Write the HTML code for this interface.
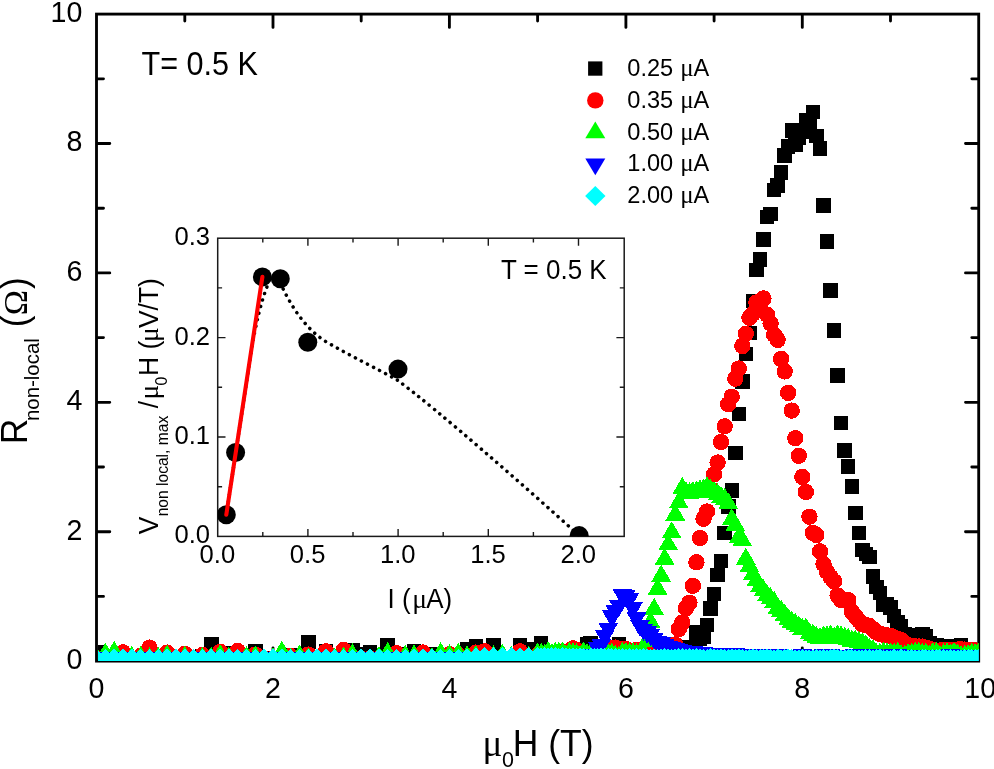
<!DOCTYPE html>
<html><head><meta charset="utf-8"><title>R non-local vs field</title>
<style>html,body{margin:0;padding:0;background:#fff;}body{width:994px;height:769px;overflow:hidden;font-family:"Liberation Sans",sans-serif;}svg{display:block;will-change:transform;}</style></head>
<body>
<svg width="994" height="769" viewBox="0 0 994 769">
<g stroke="#000" stroke-width="2.85" fill="none" stroke-linecap="round">
<path d="M184.8 660.1v-6M184.8 15.1v6M97.5 596.4h6M977.8 596.4h-6M273 660.1v-12.3M273 15.1v12.3M97.5 531.7h12.3M977.8 531.7h-12.3M361.2 660.1v-6M361.2 15.1v6M97.5 467h6M977.8 467h-6M449.4 660.1v-12.3M449.4 15.1v12.3M97.5 402.3h12.3M977.8 402.3h-12.3M537.6 660.1v-6M537.6 15.1v6M97.5 337.6h6M977.8 337.6h-6M625.9 660.1v-12.3M625.9 15.1v12.3M97.5 272.9h12.3M977.8 272.9h-12.3M714.1 660.1v-6M714.1 15.1v6M97.5 208.2h6M977.8 208.2h-6M802.3 660.1v-12.3M802.3 15.1v12.3M97.5 143.5h12.3M977.8 143.5h-12.3M890.5 660.1v-6M890.5 15.1v6M97.5 78.8h6M977.8 78.8h-6"/>
</g>
<rect x="96.5" y="14.1" width="882.2" height="647" fill="none" stroke="#000" stroke-width="2.85"/>
<clipPath id="c"><rect x="98" y="14.1" width="880.8" height="647"/></clipPath>
<g clip-path="url(#c)" shape-rendering="crispEdges">
<path fill="#000" d="M89.3 645.2h14.5v14.5h-14.5zM98.1 651.8h14.5v14.5h-14.5zM106.9 651.8h14.5v14.5h-14.5zM115.8 651.8h14.5v14.5h-14.5zM124.6 651.8h14.5v14.5h-14.5zM133.4 651.8h14.5v14.5h-14.5zM142.2 651.8h14.5v14.5h-14.5zM151.1 651.8h14.5v14.5h-14.5zM159.9 651.8h14.5v14.5h-14.5zM168.7 651.8h14.5v14.5h-14.5zM177.5 651.8h14.5v14.5h-14.5zM186.3 651.8h14.5v14.5h-14.5zM195.2 648.5h14.5v14.5h-14.5zM204 637.4h14.5v14.5h-14.5zM212.8 651.8h14.5v14.5h-14.5zM221.6 645.6h14.5v14.5h-14.5zM230.5 651.8h14.5v14.5h-14.5zM239.3 651.8h14.5v14.5h-14.5zM248.1 644.4h14.5v14.5h-14.5zM256.9 651.8h14.5v14.5h-14.5zM265.7 650.5h14.5v14.5h-14.5zM274.6 651.8h14.5v14.5h-14.5zM283.4 647.5h14.5v14.5h-14.5zM292.2 651.8h14.5v14.5h-14.5zM301 634.8h14.5v14.5h-14.5zM309.9 651.8h14.5v14.5h-14.5zM318.7 644.4h14.5v14.5h-14.5zM327.5 651.8h14.5v14.5h-14.5zM336.3 651.8h14.5v14.5h-14.5zM345.1 643.2h14.5v14.5h-14.5zM354 646.5h14.5v14.5h-14.5zM362.8 644.9h14.5v14.5h-14.5zM371.6 651.8h14.5v14.5h-14.5zM380.4 638h14.5v14.5h-14.5zM389.2 651.8h14.5v14.5h-14.5zM398.1 646.5h14.5v14.5h-14.5zM406.9 644h14.5v14.5h-14.5zM415.7 651.8h14.5v14.5h-14.5zM424.5 646.5h14.5v14.5h-14.5zM433.4 651.8h14.5v14.5h-14.5zM442.2 651.8h14.5v14.5h-14.5zM451 651.8h14.5v14.5h-14.5zM459.8 641.8h14.5v14.5h-14.5zM468.6 638.5h14.5v14.5h-14.5zM477.5 651.8h14.5v14.5h-14.5zM486.3 637.5h14.5v14.5h-14.5zM495.1 651.8h14.5v14.5h-14.5zM503.9 651.8h14.5v14.5h-14.5zM512.8 638h14.5v14.5h-14.5zM521.6 642h14.5v14.5h-14.5zM530.4 647.8h14.5v14.5h-14.5zM533.9 635.5h14.5v14.5h-14.5zM537.5 649.2h14.5v14.5h-14.5zM541 644.6h14.5v14.5h-14.5zM544.5 648.9h14.5v14.5h-14.5zM548 648.3h14.5v14.5h-14.5zM551.6 647.4h14.5v14.5h-14.5zM555.1 648.8h14.5v14.5h-14.5zM558.6 647.4h14.5v14.5h-14.5zM562.2 648.6h14.5v14.5h-14.5zM565.7 647.5h14.5v14.5h-14.5zM569.2 647.5h14.5v14.5h-14.5zM572.7 648.5h14.5v14.5h-14.5zM576.3 649.7h14.5v14.5h-14.5zM579.8 637h14.5v14.5h-14.5zM583.3 636h14.5v14.5h-14.5zM586.9 649.1h14.5v14.5h-14.5zM590.4 650.1h14.5v14.5h-14.5zM593.9 649h14.5v14.5h-14.5zM597.4 648.4h14.5v14.5h-14.5zM601 650.2h14.5v14.5h-14.5zM604.5 647.4h14.5v14.5h-14.5zM608 649.8h14.5v14.5h-14.5zM611.6 636.6h14.5v14.5h-14.5zM615.1 647.7h14.5v14.5h-14.5zM618.6 647.6h14.5v14.5h-14.5zM622.1 648.2h14.5v14.5h-14.5zM625.7 649.7h14.5v14.5h-14.5zM629.2 647.8h14.5v14.5h-14.5zM632.7 649h14.5v14.5h-14.5zM636.3 649.2h14.5v14.5h-14.5zM639.8 648.4h14.5v14.5h-14.5zM643.3 642.8h14.5v14.5h-14.5zM646.9 647.4h14.5v14.5h-14.5zM650.4 647.4h14.5v14.5h-14.5zM653.9 647.9h14.5v14.5h-14.5zM657.4 649.3h14.5v14.5h-14.5zM661 643.8h14.5v14.5h-14.5zM664.5 648.2h14.5v14.5h-14.5zM668 649h14.5v14.5h-14.5zM671.6 647.8h14.5v14.5h-14.5zM675.1 646.2h14.5v14.5h-14.5zM678.6 644.8h14.5v14.5h-14.5zM682.1 640.1h14.5v14.5h-14.5zM685.7 640.1h14.5v14.5h-14.5zM689.2 625h14.5v14.5h-14.5zM692.7 631.6h14.5v14.5h-14.5zM696.3 629.2h14.5v14.5h-14.5zM699.8 617.8h14.5v14.5h-14.5zM703.3 601h14.5v14.5h-14.5zM706.8 586.5h14.5v14.5h-14.5zM710.4 567.5h14.5v14.5h-14.5zM713.9 553.6h14.5v14.5h-14.5zM717.4 525.6h14.5v14.5h-14.5zM721 499.4h14.5v14.5h-14.5zM724.5 483.4h14.5v14.5h-14.5zM728 445.6h14.5v14.5h-14.5zM731.5 406.6h14.5v14.5h-14.5zM735.1 374.4h14.5v14.5h-14.5zM738.6 346.8h14.5v14.5h-14.5zM742.1 325.9h14.5v14.5h-14.5zM745.7 293.8h14.5v14.5h-14.5zM749.2 262.8h14.5v14.5h-14.5zM752.7 252.4h14.5v14.5h-14.5zM756.2 232.2h14.5v14.5h-14.5zM759.8 209.9h14.5v14.5h-14.5zM763.3 206.8h14.5v14.5h-14.5zM766.8 182.8h14.5v14.5h-14.5zM770.4 178.2h14.5v14.5h-14.5zM773.9 165.4h14.5v14.5h-14.5zM777.4 148.2h14.5v14.5h-14.5zM780.9 139.1h14.5v14.5h-14.5zM784.5 123.4h14.5v14.5h-14.5zM788 137.4h14.5v14.5h-14.5zM791.5 130.2h14.5v14.5h-14.5zM795.1 124.2h14.5v14.5h-14.5zM798.6 112.5h14.5v14.5h-14.5zM802.1 117.8h14.5v14.5h-14.5zM805.6 104.8h14.5v14.5h-14.5zM809.2 128.7h14.5v14.5h-14.5zM812.7 141.3h14.5v14.5h-14.5zM816.2 198.4h14.5v14.5h-14.5zM819.8 234.2h14.5v14.5h-14.5zM823.3 283.2h14.5v14.5h-14.5zM826.8 323.4h14.5v14.5h-14.5zM830.3 368.4h14.5v14.5h-14.5zM833.9 415.9h14.5v14.5h-14.5zM837.4 443.2h14.5v14.5h-14.5zM840.9 459.2h14.5v14.5h-14.5zM844.5 479.1h14.5v14.5h-14.5zM848 505.5h14.5v14.5h-14.5zM851.5 525.5h14.5v14.5h-14.5zM855 542.8h14.5v14.5h-14.5zM858.6 546.5h14.5v14.5h-14.5zM862.1 549.6h14.5v14.5h-14.5zM865.6 569h14.5v14.5h-14.5zM869.2 579.8h14.5v14.5h-14.5zM872.7 585.5h14.5v14.5h-14.5zM876.2 597h14.5v14.5h-14.5zM879.8 596.9h14.5v14.5h-14.5zM883.3 600.2h14.5v14.5h-14.5zM886.8 608.8h14.5v14.5h-14.5zM890.3 614.8h14.5v14.5h-14.5zM893.9 619h14.5v14.5h-14.5zM897.4 626.8h14.5v14.5h-14.5zM900.9 627.8h14.5v14.5h-14.5zM904.5 628.8h14.5v14.5h-14.5zM908 628.5h14.5v14.5h-14.5zM911.5 628.2h14.5v14.5h-14.5zM915 627.1h14.5v14.5h-14.5zM918.6 629.1h14.5v14.5h-14.5zM922.1 635.8h14.5v14.5h-14.5zM925.6 638.8h14.5v14.5h-14.5zM929.2 638.1h14.5v14.5h-14.5zM932.7 638.8h14.5v14.5h-14.5zM936.2 638.8h14.5v14.5h-14.5zM939.7 638.8h14.5v14.5h-14.5zM943.3 638.8h14.5v14.5h-14.5zM946.8 638.8h14.5v14.5h-14.5zM950.3 638.8h14.5v14.5h-14.5zM953.9 638.1h14.5v14.5h-14.5zM957.4 643.8h14.5v14.5h-14.5zM960.9 644.2h14.5v14.5h-14.5zM964.4 644.8h14.5v14.5h-14.5zM968 645.2h14.5v14.5h-14.5zM971.5 645.8h14.5v14.5h-14.5z"/>
<path fill="#f00" d="M88.3 658.5a8.2 8.2 0 1 0 16.4 0a8.2 8.2 0 1 0 -16.4 0zM97.2 658.5a8.2 8.2 0 1 0 16.4 0a8.2 8.2 0 1 0 -16.4 0zM106 658.5a8.2 8.2 0 1 0 16.4 0a8.2 8.2 0 1 0 -16.4 0zM114.8 652.3a8.2 8.2 0 1 0 16.4 0a8.2 8.2 0 1 0 -16.4 0zM123.6 658.5a8.2 8.2 0 1 0 16.4 0a8.2 8.2 0 1 0 -16.4 0zM132.5 655.9a8.2 8.2 0 1 0 16.4 0a8.2 8.2 0 1 0 -16.4 0zM141.3 647.6a8.2 8.2 0 1 0 16.4 0a8.2 8.2 0 1 0 -16.4 0zM150.1 658.5a8.2 8.2 0 1 0 16.4 0a8.2 8.2 0 1 0 -16.4 0zM158.9 652.6a8.2 8.2 0 1 0 16.4 0a8.2 8.2 0 1 0 -16.4 0zM167.7 658.5a8.2 8.2 0 1 0 16.4 0a8.2 8.2 0 1 0 -16.4 0zM176.6 653.9a8.2 8.2 0 1 0 16.4 0a8.2 8.2 0 1 0 -16.4 0zM185.4 658.5a8.2 8.2 0 1 0 16.4 0a8.2 8.2 0 1 0 -16.4 0zM194.2 655a8.2 8.2 0 1 0 16.4 0a8.2 8.2 0 1 0 -16.4 0zM203 658.5a8.2 8.2 0 1 0 16.4 0a8.2 8.2 0 1 0 -16.4 0zM211.9 651.9a8.2 8.2 0 1 0 16.4 0a8.2 8.2 0 1 0 -16.4 0zM220.7 658.5a8.2 8.2 0 1 0 16.4 0a8.2 8.2 0 1 0 -16.4 0zM229.5 651a8.2 8.2 0 1 0 16.4 0a8.2 8.2 0 1 0 -16.4 0zM238.3 658.5a8.2 8.2 0 1 0 16.4 0a8.2 8.2 0 1 0 -16.4 0zM247.1 654.6a8.2 8.2 0 1 0 16.4 0a8.2 8.2 0 1 0 -16.4 0zM256 658.5a8.2 8.2 0 1 0 16.4 0a8.2 8.2 0 1 0 -16.4 0zM264.8 658.5a8.2 8.2 0 1 0 16.4 0a8.2 8.2 0 1 0 -16.4 0zM273.6 658.5a8.2 8.2 0 1 0 16.4 0a8.2 8.2 0 1 0 -16.4 0zM282.4 656a8.2 8.2 0 1 0 16.4 0a8.2 8.2 0 1 0 -16.4 0zM291.3 658.5a8.2 8.2 0 1 0 16.4 0a8.2 8.2 0 1 0 -16.4 0zM300.1 654.6a8.2 8.2 0 1 0 16.4 0a8.2 8.2 0 1 0 -16.4 0zM308.9 658.5a8.2 8.2 0 1 0 16.4 0a8.2 8.2 0 1 0 -16.4 0zM317.7 651.3a8.2 8.2 0 1 0 16.4 0a8.2 8.2 0 1 0 -16.4 0zM326.5 658.5a8.2 8.2 0 1 0 16.4 0a8.2 8.2 0 1 0 -16.4 0zM335.4 650a8.2 8.2 0 1 0 16.4 0a8.2 8.2 0 1 0 -16.4 0zM344.2 658.5a8.2 8.2 0 1 0 16.4 0a8.2 8.2 0 1 0 -16.4 0zM353 658.5a8.2 8.2 0 1 0 16.4 0a8.2 8.2 0 1 0 -16.4 0zM361.8 658.5a8.2 8.2 0 1 0 16.4 0a8.2 8.2 0 1 0 -16.4 0zM370.7 658.5a8.2 8.2 0 1 0 16.4 0a8.2 8.2 0 1 0 -16.4 0zM379.5 658.5a8.2 8.2 0 1 0 16.4 0a8.2 8.2 0 1 0 -16.4 0zM388.3 653.3a8.2 8.2 0 1 0 16.4 0a8.2 8.2 0 1 0 -16.4 0zM397.1 658.5a8.2 8.2 0 1 0 16.4 0a8.2 8.2 0 1 0 -16.4 0zM405.9 658.5a8.2 8.2 0 1 0 16.4 0a8.2 8.2 0 1 0 -16.4 0zM414.8 652.6a8.2 8.2 0 1 0 16.4 0a8.2 8.2 0 1 0 -16.4 0zM423.6 658.5a8.2 8.2 0 1 0 16.4 0a8.2 8.2 0 1 0 -16.4 0zM432.4 658.5a8.2 8.2 0 1 0 16.4 0a8.2 8.2 0 1 0 -16.4 0zM441.2 654.3a8.2 8.2 0 1 0 16.4 0a8.2 8.2 0 1 0 -16.4 0zM450.1 655a8.2 8.2 0 1 0 16.4 0a8.2 8.2 0 1 0 -16.4 0zM458.9 658.5a8.2 8.2 0 1 0 16.4 0a8.2 8.2 0 1 0 -16.4 0zM467.7 652.6a8.2 8.2 0 1 0 16.4 0a8.2 8.2 0 1 0 -16.4 0zM476.5 651.3a8.2 8.2 0 1 0 16.4 0a8.2 8.2 0 1 0 -16.4 0zM485.3 658.5a8.2 8.2 0 1 0 16.4 0a8.2 8.2 0 1 0 -16.4 0zM494.2 658.5a8.2 8.2 0 1 0 16.4 0a8.2 8.2 0 1 0 -16.4 0zM503 658.5a8.2 8.2 0 1 0 16.4 0a8.2 8.2 0 1 0 -16.4 0zM511.8 651.3a8.2 8.2 0 1 0 16.4 0a8.2 8.2 0 1 0 -16.4 0zM520.6 658.5a8.2 8.2 0 1 0 16.4 0a8.2 8.2 0 1 0 -16.4 0zM529.4 655a8.2 8.2 0 1 0 16.4 0a8.2 8.2 0 1 0 -16.4 0zM533 655.1a8.2 8.2 0 1 0 16.4 0a8.2 8.2 0 1 0 -16.4 0zM536.5 656.1a8.2 8.2 0 1 0 16.4 0a8.2 8.2 0 1 0 -16.4 0zM540 655.9a8.2 8.2 0 1 0 16.4 0a8.2 8.2 0 1 0 -16.4 0zM543.6 655a8.2 8.2 0 1 0 16.4 0a8.2 8.2 0 1 0 -16.4 0zM547.1 655.6a8.2 8.2 0 1 0 16.4 0a8.2 8.2 0 1 0 -16.4 0zM550.6 652a8.2 8.2 0 1 0 16.4 0a8.2 8.2 0 1 0 -16.4 0zM554.2 651.5a8.2 8.2 0 1 0 16.4 0a8.2 8.2 0 1 0 -16.4 0zM557.7 656a8.2 8.2 0 1 0 16.4 0a8.2 8.2 0 1 0 -16.4 0zM561.2 655.1a8.2 8.2 0 1 0 16.4 0a8.2 8.2 0 1 0 -16.4 0zM564.7 648.4a8.2 8.2 0 1 0 16.4 0a8.2 8.2 0 1 0 -16.4 0zM568.3 650a8.2 8.2 0 1 0 16.4 0a8.2 8.2 0 1 0 -16.4 0zM571.8 655.3a8.2 8.2 0 1 0 16.4 0a8.2 8.2 0 1 0 -16.4 0zM575.3 656a8.2 8.2 0 1 0 16.4 0a8.2 8.2 0 1 0 -16.4 0zM578.9 654.8a8.2 8.2 0 1 0 16.4 0a8.2 8.2 0 1 0 -16.4 0zM582.4 655.5a8.2 8.2 0 1 0 16.4 0a8.2 8.2 0 1 0 -16.4 0zM585.9 654.6a8.2 8.2 0 1 0 16.4 0a8.2 8.2 0 1 0 -16.4 0zM589.4 655.8a8.2 8.2 0 1 0 16.4 0a8.2 8.2 0 1 0 -16.4 0zM593 656a8.2 8.2 0 1 0 16.4 0a8.2 8.2 0 1 0 -16.4 0zM596.5 655.6a8.2 8.2 0 1 0 16.4 0a8.2 8.2 0 1 0 -16.4 0zM600 656.3a8.2 8.2 0 1 0 16.4 0a8.2 8.2 0 1 0 -16.4 0zM603.6 648a8.2 8.2 0 1 0 16.4 0a8.2 8.2 0 1 0 -16.4 0zM607.1 647.6a8.2 8.2 0 1 0 16.4 0a8.2 8.2 0 1 0 -16.4 0zM610.6 655.7a8.2 8.2 0 1 0 16.4 0a8.2 8.2 0 1 0 -16.4 0zM614.1 649a8.2 8.2 0 1 0 16.4 0a8.2 8.2 0 1 0 -16.4 0zM617.7 649a8.2 8.2 0 1 0 16.4 0a8.2 8.2 0 1 0 -16.4 0zM621.2 656.2a8.2 8.2 0 1 0 16.4 0a8.2 8.2 0 1 0 -16.4 0zM624.7 656.4a8.2 8.2 0 1 0 16.4 0a8.2 8.2 0 1 0 -16.4 0zM628.3 650a8.2 8.2 0 1 0 16.4 0a8.2 8.2 0 1 0 -16.4 0zM631.8 655.8a8.2 8.2 0 1 0 16.4 0a8.2 8.2 0 1 0 -16.4 0zM635.3 654.6a8.2 8.2 0 1 0 16.4 0a8.2 8.2 0 1 0 -16.4 0zM638.8 649.5a8.2 8.2 0 1 0 16.4 0a8.2 8.2 0 1 0 -16.4 0zM642.4 655.8a8.2 8.2 0 1 0 16.4 0a8.2 8.2 0 1 0 -16.4 0zM645.9 656.5a8.2 8.2 0 1 0 16.4 0a8.2 8.2 0 1 0 -16.4 0zM649.4 656.1a8.2 8.2 0 1 0 16.4 0a8.2 8.2 0 1 0 -16.4 0zM653 652a8.2 8.2 0 1 0 16.4 0a8.2 8.2 0 1 0 -16.4 0zM656.5 651a8.2 8.2 0 1 0 16.4 0a8.2 8.2 0 1 0 -16.4 0zM660 650a8.2 8.2 0 1 0 16.4 0a8.2 8.2 0 1 0 -16.4 0zM663.5 648a8.2 8.2 0 1 0 16.4 0a8.2 8.2 0 1 0 -16.4 0zM667.1 644.5a8.2 8.2 0 1 0 16.4 0a8.2 8.2 0 1 0 -16.4 0zM670.6 629a8.2 8.2 0 1 0 16.4 0a8.2 8.2 0 1 0 -16.4 0zM674.1 622.4a8.2 8.2 0 1 0 16.4 0a8.2 8.2 0 1 0 -16.4 0zM677.7 608.3a8.2 8.2 0 1 0 16.4 0a8.2 8.2 0 1 0 -16.4 0zM681.2 602.7a8.2 8.2 0 1 0 16.4 0a8.2 8.2 0 1 0 -16.4 0zM684.7 585.8a8.2 8.2 0 1 0 16.4 0a8.2 8.2 0 1 0 -16.4 0zM688.2 562.3a8.2 8.2 0 1 0 16.4 0a8.2 8.2 0 1 0 -16.4 0zM691.8 538.1a8.2 8.2 0 1 0 16.4 0a8.2 8.2 0 1 0 -16.4 0zM695.3 518.8a8.2 8.2 0 1 0 16.4 0a8.2 8.2 0 1 0 -16.4 0zM698.8 511.5a8.2 8.2 0 1 0 16.4 0a8.2 8.2 0 1 0 -16.4 0zM702.4 489a8.2 8.2 0 1 0 16.4 0a8.2 8.2 0 1 0 -16.4 0zM705.9 474.4a8.2 8.2 0 1 0 16.4 0a8.2 8.2 0 1 0 -16.4 0zM709.4 462.5a8.2 8.2 0 1 0 16.4 0a8.2 8.2 0 1 0 -16.4 0zM712.9 442a8.2 8.2 0 1 0 16.4 0a8.2 8.2 0 1 0 -16.4 0zM716.5 426.3a8.2 8.2 0 1 0 16.4 0a8.2 8.2 0 1 0 -16.4 0zM720 404.1a8.2 8.2 0 1 0 16.4 0a8.2 8.2 0 1 0 -16.4 0zM723.5 396.7a8.2 8.2 0 1 0 16.4 0a8.2 8.2 0 1 0 -16.4 0zM727.1 378.7a8.2 8.2 0 1 0 16.4 0a8.2 8.2 0 1 0 -16.4 0zM730.6 368.5a8.2 8.2 0 1 0 16.4 0a8.2 8.2 0 1 0 -16.4 0zM734.1 346a8.2 8.2 0 1 0 16.4 0a8.2 8.2 0 1 0 -16.4 0zM737.6 333.9a8.2 8.2 0 1 0 16.4 0a8.2 8.2 0 1 0 -16.4 0zM741.2 317.8a8.2 8.2 0 1 0 16.4 0a8.2 8.2 0 1 0 -16.4 0zM744.7 313.8a8.2 8.2 0 1 0 16.4 0a8.2 8.2 0 1 0 -16.4 0zM748.2 302.5a8.2 8.2 0 1 0 16.4 0a8.2 8.2 0 1 0 -16.4 0zM751.8 303.5a8.2 8.2 0 1 0 16.4 0a8.2 8.2 0 1 0 -16.4 0zM755.3 298.5a8.2 8.2 0 1 0 16.4 0a8.2 8.2 0 1 0 -16.4 0zM758.8 314.6a8.2 8.2 0 1 0 16.4 0a8.2 8.2 0 1 0 -16.4 0zM762.4 323.5a8.2 8.2 0 1 0 16.4 0a8.2 8.2 0 1 0 -16.4 0zM765.9 334.7a8.2 8.2 0 1 0 16.4 0a8.2 8.2 0 1 0 -16.4 0zM769.4 339.9a8.2 8.2 0 1 0 16.4 0a8.2 8.2 0 1 0 -16.4 0zM772.9 358.9a8.2 8.2 0 1 0 16.4 0a8.2 8.2 0 1 0 -16.4 0zM776.5 371.4a8.2 8.2 0 1 0 16.4 0a8.2 8.2 0 1 0 -16.4 0zM780 392.9a8.2 8.2 0 1 0 16.4 0a8.2 8.2 0 1 0 -16.4 0zM783.5 410.6a8.2 8.2 0 1 0 16.4 0a8.2 8.2 0 1 0 -16.4 0zM787.1 438.2a8.2 8.2 0 1 0 16.4 0a8.2 8.2 0 1 0 -16.4 0zM790.6 455.8a8.2 8.2 0 1 0 16.4 0a8.2 8.2 0 1 0 -16.4 0zM794.1 477a8.2 8.2 0 1 0 16.4 0a8.2 8.2 0 1 0 -16.4 0zM797.6 492a8.2 8.2 0 1 0 16.4 0a8.2 8.2 0 1 0 -16.4 0zM801.2 516.7a8.2 8.2 0 1 0 16.4 0a8.2 8.2 0 1 0 -16.4 0zM804.7 532.8a8.2 8.2 0 1 0 16.4 0a8.2 8.2 0 1 0 -16.4 0zM808.2 535a8.2 8.2 0 1 0 16.4 0a8.2 8.2 0 1 0 -16.4 0zM811.8 551.3a8.2 8.2 0 1 0 16.4 0a8.2 8.2 0 1 0 -16.4 0zM815.3 564.1a8.2 8.2 0 1 0 16.4 0a8.2 8.2 0 1 0 -16.4 0zM818.8 571.8a8.2 8.2 0 1 0 16.4 0a8.2 8.2 0 1 0 -16.4 0zM822.3 577a8.2 8.2 0 1 0 16.4 0a8.2 8.2 0 1 0 -16.4 0zM825.9 581.4a8.2 8.2 0 1 0 16.4 0a8.2 8.2 0 1 0 -16.4 0zM829.4 595.4a8.2 8.2 0 1 0 16.4 0a8.2 8.2 0 1 0 -16.4 0zM832.9 600.2a8.2 8.2 0 1 0 16.4 0a8.2 8.2 0 1 0 -16.4 0zM836.5 600a8.2 8.2 0 1 0 16.4 0a8.2 8.2 0 1 0 -16.4 0zM840 600a8.2 8.2 0 1 0 16.4 0a8.2 8.2 0 1 0 -16.4 0zM843.5 611.5a8.2 8.2 0 1 0 16.4 0a8.2 8.2 0 1 0 -16.4 0zM847 616a8.2 8.2 0 1 0 16.4 0a8.2 8.2 0 1 0 -16.4 0zM850.6 620.4a8.2 8.2 0 1 0 16.4 0a8.2 8.2 0 1 0 -16.4 0zM854.1 624.4a8.2 8.2 0 1 0 16.4 0a8.2 8.2 0 1 0 -16.4 0zM857.6 625a8.2 8.2 0 1 0 16.4 0a8.2 8.2 0 1 0 -16.4 0zM861.2 626a8.2 8.2 0 1 0 16.4 0a8.2 8.2 0 1 0 -16.4 0zM864.7 629a8.2 8.2 0 1 0 16.4 0a8.2 8.2 0 1 0 -16.4 0zM868.2 632.4a8.2 8.2 0 1 0 16.4 0a8.2 8.2 0 1 0 -16.4 0zM871.7 634a8.2 8.2 0 1 0 16.4 0a8.2 8.2 0 1 0 -16.4 0zM875.3 634.7a8.2 8.2 0 1 0 16.4 0a8.2 8.2 0 1 0 -16.4 0zM878.8 635.3a8.2 8.2 0 1 0 16.4 0a8.2 8.2 0 1 0 -16.4 0zM882.3 636a8.2 8.2 0 1 0 16.4 0a8.2 8.2 0 1 0 -16.4 0zM885.9 637.3a8.2 8.2 0 1 0 16.4 0a8.2 8.2 0 1 0 -16.4 0zM889.4 638.7a8.2 8.2 0 1 0 16.4 0a8.2 8.2 0 1 0 -16.4 0zM892.9 640a8.2 8.2 0 1 0 16.4 0a8.2 8.2 0 1 0 -16.4 0zM896.4 643a8.2 8.2 0 1 0 16.4 0a8.2 8.2 0 1 0 -16.4 0zM900 646a8.2 8.2 0 1 0 16.4 0a8.2 8.2 0 1 0 -16.4 0zM903.5 646.1a8.2 8.2 0 1 0 16.4 0a8.2 8.2 0 1 0 -16.4 0zM907 646.3a8.2 8.2 0 1 0 16.4 0a8.2 8.2 0 1 0 -16.4 0zM910.6 646.5a8.2 8.2 0 1 0 16.4 0a8.2 8.2 0 1 0 -16.4 0zM914.1 646.6a8.2 8.2 0 1 0 16.4 0a8.2 8.2 0 1 0 -16.4 0zM917.6 647.6a8.2 8.2 0 1 0 16.4 0a8.2 8.2 0 1 0 -16.4 0zM921.1 648.7a8.2 8.2 0 1 0 16.4 0a8.2 8.2 0 1 0 -16.4 0zM924.7 649.7a8.2 8.2 0 1 0 16.4 0a8.2 8.2 0 1 0 -16.4 0zM928.2 650.7a8.2 8.2 0 1 0 16.4 0a8.2 8.2 0 1 0 -16.4 0zM931.7 650.5a8.2 8.2 0 1 0 16.4 0a8.2 8.2 0 1 0 -16.4 0zM935.3 650.3a8.2 8.2 0 1 0 16.4 0a8.2 8.2 0 1 0 -16.4 0zM938.8 650.1a8.2 8.2 0 1 0 16.4 0a8.2 8.2 0 1 0 -16.4 0zM942.3 649.9a8.2 8.2 0 1 0 16.4 0a8.2 8.2 0 1 0 -16.4 0zM945.8 649.7a8.2 8.2 0 1 0 16.4 0a8.2 8.2 0 1 0 -16.4 0zM949.4 649.5a8.2 8.2 0 1 0 16.4 0a8.2 8.2 0 1 0 -16.4 0zM952.9 649.3a8.2 8.2 0 1 0 16.4 0a8.2 8.2 0 1 0 -16.4 0zM956.4 649.6a8.2 8.2 0 1 0 16.4 0a8.2 8.2 0 1 0 -16.4 0zM960 649.9a8.2 8.2 0 1 0 16.4 0a8.2 8.2 0 1 0 -16.4 0zM963.5 650.1a8.2 8.2 0 1 0 16.4 0a8.2 8.2 0 1 0 -16.4 0zM967 650.4a8.2 8.2 0 1 0 16.4 0a8.2 8.2 0 1 0 -16.4 0zM970.5 650.7a8.2 8.2 0 1 0 16.4 0a8.2 8.2 0 1 0 -16.4 0z"/>
<path fill="#0f0" d="M96.5 646.6l9.9 17h-19.8zM105.4 642.7l9.9 17h-19.8zM114.2 640.7l9.9 17h-19.8zM123 649.2l9.9 17h-19.8zM131.8 645.9l9.9 17h-19.8zM140.7 645.9l9.9 17h-19.8zM149.5 647.2l9.9 17h-19.8zM158.3 646.6l9.9 17h-19.8zM167.1 644.6l9.9 17h-19.8zM175.9 648.5l9.9 17h-19.8zM184.8 645.9l9.9 17h-19.8zM193.6 649.2l9.9 17h-19.8zM202.4 646.6l9.9 17h-19.8zM211.2 646.6l9.9 17h-19.8zM220.1 644l9.9 17h-19.8zM228.9 646.6l9.9 17h-19.8zM237.7 649l9.9 17h-19.8zM246.5 645.9l9.9 17h-19.8zM255.3 645.3l9.9 17h-19.8zM264.2 648.5l9.9 17h-19.8zM273 647.2l9.9 17h-19.8zM281.8 640.7l9.9 17h-19.8zM290.6 647.9l9.9 17h-19.8zM299.5 644.6l9.9 17h-19.8zM308.3 647.2l9.9 17h-19.8zM317.1 649.2l9.9 17h-19.8zM325.9 649.2l9.9 17h-19.8zM334.7 647.2l9.9 17h-19.8zM343.6 646.6l9.9 17h-19.8zM352.4 643.3l9.9 17h-19.8zM361.2 650l9.9 17h-19.8zM370 649.8l9.9 17h-19.8zM378.9 645.9l9.9 17h-19.8zM387.7 642l9.9 17h-19.8zM396.5 649.8l9.9 17h-19.8zM405.3 644.6l9.9 17h-19.8zM414.1 644.4l9.9 17h-19.8zM423 649.2l9.9 17h-19.8zM431.8 647.2l9.9 17h-19.8zM440.6 642l9.9 17h-19.8zM449.4 644l9.9 17h-19.8zM458.3 642.7l9.9 17h-19.8zM467.1 645.3l9.9 17h-19.8zM475.9 645.1l9.9 17h-19.8zM484.7 647.1l9.9 17h-19.8zM493.5 645.1l9.9 17h-19.8zM502.4 643.8l9.9 17h-19.8zM511.2 645.8l9.9 17h-19.8zM520 647.1l9.9 17h-19.8zM528.8 645.8l9.9 17h-19.8zM537.6 642.4l9.9 17h-19.8zM541.2 642.8l9.9 17h-19.8zM544.7 644.1l9.9 17h-19.8zM548.2 641.2l9.9 17h-19.8zM551.8 643.2l9.9 17h-19.8zM555.3 641.9l9.9 17h-19.8zM558.8 641.6l9.9 17h-19.8zM562.4 641.4l9.9 17h-19.8zM565.9 644.6l9.9 17h-19.8zM569.4 641.7l9.9 17h-19.8zM572.9 642.2l9.9 17h-19.8zM576.5 642.9l9.9 17h-19.8zM580 645l9.9 17h-19.8zM583.5 641.5l9.9 17h-19.8zM587.1 643.1l9.9 17h-19.8zM590.6 643.6l9.9 17h-19.8zM594.1 645.1l9.9 17h-19.8zM597.6 644.8l9.9 17h-19.8zM601.2 645l9.9 17h-19.8zM604.7 642.4l9.9 17h-19.8zM608.2 643l9.9 17h-19.8zM611.8 642.7l9.9 17h-19.8zM615.3 645.1l9.9 17h-19.8zM618.8 645.4l9.9 17h-19.8zM622.3 641.8l9.9 17h-19.8zM625.9 641.9l9.9 17h-19.8zM629.4 642.1l9.9 17h-19.8zM632.9 642.2l9.9 17h-19.8zM636.5 643l9.9 17h-19.8zM640 643l9.9 17h-19.8zM643.5 642l9.9 17h-19.8zM647 630l9.9 17h-19.8zM650.6 611l9.9 17h-19.8zM654.1 597.8l9.9 17h-19.8zM657.6 577.7l9.9 17h-19.8zM661.2 564.6l9.9 17h-19.8zM664.7 547.7l9.9 17h-19.8zM668.2 533.2l9.9 17h-19.8zM671.7 521.2l9.9 17h-19.8zM675.3 503.5l9.9 17h-19.8zM678.8 491.4l9.9 17h-19.8zM682.3 476.9l9.9 17h-19.8zM685.9 481l9.9 17h-19.8zM689.4 482l9.9 17h-19.8zM692.9 481l9.9 17h-19.8zM696.4 480.5l9.9 17h-19.8zM700 479.5l9.9 17h-19.8zM703.5 478.5l9.9 17h-19.8zM707 476l9.9 17h-19.8zM710.6 479l9.9 17h-19.8zM714.1 481l9.9 17h-19.8zM717.6 483l9.9 17h-19.8zM721.1 486l9.9 17h-19.8zM724.7 488l9.9 17h-19.8zM728.2 492.2l9.9 17h-19.8zM731.7 508.3l9.9 17h-19.8zM735.3 513.9l9.9 17h-19.8zM738.8 526l9.9 17h-19.8zM742.3 529.2l9.9 17h-19.8zM745.8 547.7l9.9 17h-19.8zM749.4 555l9.9 17h-19.8zM752.9 563l9.9 17h-19.8zM756.4 569l9.9 17h-19.8zM760 575l9.9 17h-19.8zM763.5 579.3l9.9 17h-19.8zM767 584.1l9.9 17h-19.8zM770.6 587.3l9.9 17h-19.8zM774.1 590.8l9.9 17h-19.8zM777.6 596.7l9.9 17h-19.8zM781.1 599.7l9.9 17h-19.8zM784.7 603.6l9.9 17h-19.8zM788.2 608.2l9.9 17h-19.8zM791.7 610.5l9.9 17h-19.8zM795.3 613.1l9.9 17h-19.8zM798.8 615.4l9.9 17h-19.8zM802.3 617.6l9.9 17h-19.8zM805.8 617.4l9.9 17h-19.8zM809.4 622.4l9.9 17h-19.8zM812.9 623.7l9.9 17h-19.8zM816.4 625.7l9.9 17h-19.8zM820 627.1l9.9 17h-19.8zM823.5 625.6l9.9 17h-19.8zM827 625.6l9.9 17h-19.8zM830.5 624.6l9.9 17h-19.8zM834.1 626.5l9.9 17h-19.8zM837.6 624.4l9.9 17h-19.8zM841.1 625.4l9.9 17h-19.8zM844.7 627l9.9 17h-19.8zM848.2 627.8l9.9 17h-19.8zM851.7 629.5l9.9 17h-19.8zM855.2 629.6l9.9 17h-19.8zM858.8 630.6l9.9 17h-19.8zM862.3 632.2l9.9 17h-19.8zM865.8 634.5l9.9 17h-19.8zM869.4 637.8l9.9 17h-19.8zM872.9 639l9.9 17h-19.8zM876.4 642.8l9.9 17h-19.8zM879.9 642.6l9.9 17h-19.8zM883.5 641.7l9.9 17h-19.8zM887 642.1l9.9 17h-19.8zM890.5 642.5l9.9 17h-19.8zM894.1 642.6l9.9 17h-19.8zM897.6 641.7l9.9 17h-19.8zM901.1 644.3l9.9 17h-19.8zM904.6 644.9l9.9 17h-19.8zM908.2 643l9.9 17h-19.8zM911.7 643.1l9.9 17h-19.8zM915.2 641.7l9.9 17h-19.8zM918.8 641.8l9.9 17h-19.8zM922.3 642.6l9.9 17h-19.8zM925.8 642.4l9.9 17h-19.8zM929.3 644.4l9.9 17h-19.8zM932.9 642l9.9 17h-19.8zM936.4 641.6l9.9 17h-19.8zM939.9 644.9l9.9 17h-19.8zM943.5 643.4l9.9 17h-19.8zM947 642.1l9.9 17h-19.8zM950.5 643.5l9.9 17h-19.8zM954 641.7l9.9 17h-19.8zM957.6 643.5l9.9 17h-19.8zM961.1 645.1l9.9 17h-19.8zM964.6 644.7l9.9 17h-19.8zM968.2 644.2l9.9 17h-19.8zM971.7 642.6l9.9 17h-19.8zM975.2 643l9.9 17h-19.8zM978.7 642.3l9.9 17h-19.8z"/>
<path fill="#00f" d="M96.5 669.1l9.9 -17h-19.8zM105.4 669.1l9.9 -17h-19.8zM114.2 669.1l9.9 -17h-19.8zM123 669.1l9.9 -17h-19.8zM131.8 669.1l9.9 -17h-19.8zM140.7 669.1l9.9 -17h-19.8zM149.5 669.1l9.9 -17h-19.8zM158.3 669.1l9.9 -17h-19.8zM167.1 669.1l9.9 -17h-19.8zM175.9 669.1l9.9 -17h-19.8zM184.8 669.1l9.9 -17h-19.8zM193.6 669.1l9.9 -17h-19.8zM202.4 669.1l9.9 -17h-19.8zM211.2 669.1l9.9 -17h-19.8zM220.1 669.1l9.9 -17h-19.8zM228.9 669.1l9.9 -17h-19.8zM237.7 669.1l9.9 -17h-19.8zM246.5 669.1l9.9 -17h-19.8zM255.3 669.1l9.9 -17h-19.8zM264.2 669.1l9.9 -17h-19.8zM273 669.1l9.9 -17h-19.8zM281.8 669.1l9.9 -17h-19.8zM290.6 669.1l9.9 -17h-19.8zM299.5 669.1l9.9 -17h-19.8zM308.3 669.1l9.9 -17h-19.8zM317.1 669.1l9.9 -17h-19.8zM325.9 669.1l9.9 -17h-19.8zM334.7 669.1l9.9 -17h-19.8zM343.6 669.1l9.9 -17h-19.8zM352.4 669.1l9.9 -17h-19.8zM361.2 669.1l9.9 -17h-19.8zM370 669.1l9.9 -17h-19.8zM378.9 669.1l9.9 -17h-19.8zM387.7 669.1l9.9 -17h-19.8zM396.5 669.1l9.9 -17h-19.8zM405.3 669.1l9.9 -17h-19.8zM414.1 669.1l9.9 -17h-19.8zM423 669.1l9.9 -17h-19.8zM431.8 669.1l9.9 -17h-19.8zM440.6 669.1l9.9 -17h-19.8zM449.4 669.1l9.9 -17h-19.8zM458.3 669.1l9.9 -17h-19.8zM467.1 669.1l9.9 -17h-19.8zM475.9 669.1l9.9 -17h-19.8zM484.7 669.1l9.9 -17h-19.8zM493.5 669.1l9.9 -17h-19.8zM502.4 669.1l9.9 -17h-19.8zM511.2 669.1l9.9 -17h-19.8zM520 669.1l9.9 -17h-19.8zM528.8 669.1l9.9 -17h-19.8zM537.6 668.4l9.9 -17h-19.8zM541.2 668l9.9 -17h-19.8zM544.7 668.3l9.9 -17h-19.8zM548.2 667.6l9.9 -17h-19.8zM551.8 667.3l9.9 -17h-19.8zM555.3 668.2l9.9 -17h-19.8zM558.8 668.4l9.9 -17h-19.8zM562.4 668.2l9.9 -17h-19.8zM565.9 668l9.9 -17h-19.8zM569.4 668l9.9 -17h-19.8zM572.9 667.9l9.9 -17h-19.8zM576.5 667.5l9.9 -17h-19.8zM580 667.5l9.9 -17h-19.8zM583.5 667.5l9.9 -17h-19.8zM587.1 667.5l9.9 -17h-19.8zM590.6 667l9.9 -17h-19.8zM594.1 666l9.9 -17h-19.8zM597.6 659l9.9 -17h-19.8zM601.2 655.9l9.9 -17h-19.8zM604.7 647l9.9 -17h-19.8zM608.2 639.8l9.9 -17h-19.8zM611.8 627.4l9.9 -17h-19.8zM615.3 622.1l9.9 -17h-19.8zM618.8 616.9l9.9 -17h-19.8zM622.3 606l9.9 -17h-19.8zM625.9 606.8l9.9 -17h-19.8zM629.4 610l9.9 -17h-19.8zM632.9 619.2l9.9 -17h-19.8zM636.5 629.3l9.9 -17h-19.8zM640 636.9l9.9 -17h-19.8zM643.5 640.6l9.9 -17h-19.8zM647 643.4l9.9 -17h-19.8zM650.6 645.8l9.9 -17h-19.8zM654.1 649.5l9.9 -17h-19.8zM657.6 652.7l9.9 -17h-19.8zM661.2 654.3l9.9 -17h-19.8zM664.7 655.9l9.9 -17h-19.8zM668.2 657.5l9.9 -17h-19.8zM671.7 659l9.9 -17h-19.8zM675.3 660.1l9.9 -17h-19.8zM678.8 661l9.9 -17h-19.8zM682.3 661.8l9.9 -17h-19.8zM685.9 662.6l9.9 -17h-19.8zM689.4 662.9l9.9 -17h-19.8zM692.9 663.3l9.9 -17h-19.8zM696.4 663.6l9.9 -17h-19.8zM700 664l9.9 -17h-19.8zM703.5 664.3l9.9 -17h-19.8zM707 664.7l9.9 -17h-19.8zM710.6 665l9.9 -17h-19.8zM714.1 665.1l9.9 -17h-19.8zM717.6 664.8l9.9 -17h-19.8zM721.1 665.4l9.9 -17h-19.8zM724.7 665.3l9.9 -17h-19.8zM728.2 664.9l9.9 -17h-19.8zM731.7 664.9l9.9 -17h-19.8zM735.3 665.4l9.9 -17h-19.8zM738.8 665.5l9.9 -17h-19.8zM742.3 666.3l9.9 -17h-19.8zM745.8 666.8l9.9 -17h-19.8zM749.4 666l9.9 -17h-19.8zM752.9 666.9l9.9 -17h-19.8zM756.4 667l9.9 -17h-19.8zM760 667.1l9.9 -17h-19.8zM763.5 666.2l9.9 -17h-19.8zM767 666.1l9.9 -17h-19.8zM770.6 666.1l9.9 -17h-19.8zM774.1 666l9.9 -17h-19.8zM777.6 666.1l9.9 -17h-19.8zM781.1 666.7l9.9 -17h-19.8zM784.7 667.2l9.9 -17h-19.8zM788.2 667.1l9.9 -17h-19.8zM791.7 666.6l9.9 -17h-19.8zM795.3 666.8l9.9 -17h-19.8zM798.8 667.1l9.9 -17h-19.8zM802.3 666l9.9 -17h-19.8zM805.8 666.9l9.9 -17h-19.8zM809.4 667.3l9.9 -17h-19.8zM812.9 667.1l9.9 -17h-19.8zM816.4 667.1l9.9 -17h-19.8zM820 666.6l9.9 -17h-19.8zM823.5 666.2l9.9 -17h-19.8zM827 667.2l9.9 -17h-19.8zM830.5 666.4l9.9 -17h-19.8zM834.1 667.2l9.9 -17h-19.8zM837.6 667.5l9.9 -17h-19.8zM841.1 666.6l9.9 -17h-19.8zM844.7 666.6l9.9 -17h-19.8zM848.2 667.5l9.9 -17h-19.8zM851.7 667.1l9.9 -17h-19.8zM855.2 666.3l9.9 -17h-19.8zM858.8 666.2l9.9 -17h-19.8zM862.3 666.3l9.9 -17h-19.8zM865.8 667.5l9.9 -17h-19.8zM869.4 667.3l9.9 -17h-19.8zM872.9 666.3l9.9 -17h-19.8zM876.4 667.4l9.9 -17h-19.8zM879.9 667.6l9.9 -17h-19.8zM883.5 667.1l9.9 -17h-19.8zM887 666.6l9.9 -17h-19.8zM890.5 667l9.9 -17h-19.8zM894.1 666.3l9.9 -17h-19.8zM897.6 666.1l9.9 -17h-19.8zM901.1 667.7l9.9 -17h-19.8zM904.6 667.2l9.9 -17h-19.8zM908.2 667l9.9 -17h-19.8zM911.7 667.6l9.9 -17h-19.8zM915.2 666.8l9.9 -17h-19.8zM918.8 667.5l9.9 -17h-19.8zM922.3 667.5l9.9 -17h-19.8zM925.8 666.5l9.9 -17h-19.8zM929.3 666.6l9.9 -17h-19.8zM932.9 666.7l9.9 -17h-19.8zM936.4 666.6l9.9 -17h-19.8zM939.9 667.1l9.9 -17h-19.8zM943.5 666.6l9.9 -17h-19.8zM947 666.9l9.9 -17h-19.8zM950.5 666.4l9.9 -17h-19.8zM954 667.7l9.9 -17h-19.8zM957.6 666.8l9.9 -17h-19.8zM961.1 667l9.9 -17h-19.8zM964.6 667.2l9.9 -17h-19.8zM968.2 667.7l9.9 -17h-19.8zM971.7 667l9.9 -17h-19.8zM975.2 667.8l9.9 -17h-19.8zM978.7 667.1l9.9 -17h-19.8z"/>
<path fill="#0ff" d="M96.5 648.8l10 10l-10 10l-10 -10zM105.4 648.8l10 10l-10 10l-10 -10zM114.2 648.8l10 10l-10 10l-10 -10zM123 648.8l10 10l-10 10l-10 -10zM131.8 648.8l10 10l-10 10l-10 -10zM140.7 648.8l10 10l-10 10l-10 -10zM149.5 648.8l10 10l-10 10l-10 -10zM158.3 648.8l10 10l-10 10l-10 -10zM167.1 648.8l10 10l-10 10l-10 -10zM175.9 648.8l10 10l-10 10l-10 -10zM184.8 648.8l10 10l-10 10l-10 -10zM193.6 648.8l10 10l-10 10l-10 -10zM202.4 648.8l10 10l-10 10l-10 -10zM211.2 648.8l10 10l-10 10l-10 -10zM220.1 648.8l10 10l-10 10l-10 -10zM228.9 648.8l10 10l-10 10l-10 -10zM237.7 648.8l10 10l-10 10l-10 -10zM246.5 648.8l10 10l-10 10l-10 -10zM255.3 648.8l10 10l-10 10l-10 -10zM264.2 648.8l10 10l-10 10l-10 -10zM273 648.8l10 10l-10 10l-10 -10zM281.8 648.8l10 10l-10 10l-10 -10zM290.6 648.8l10 10l-10 10l-10 -10zM299.5 648.8l10 10l-10 10l-10 -10zM308.3 648.8l10 10l-10 10l-10 -10zM317.1 648.8l10 10l-10 10l-10 -10zM325.9 648.8l10 10l-10 10l-10 -10zM334.7 648.8l10 10l-10 10l-10 -10zM343.6 648.8l10 10l-10 10l-10 -10zM352.4 648.8l10 10l-10 10l-10 -10zM361.2 648.8l10 10l-10 10l-10 -10zM370 648.8l10 10l-10 10l-10 -10zM378.9 648.8l10 10l-10 10l-10 -10zM387.7 648.8l10 10l-10 10l-10 -10zM396.5 648.8l10 10l-10 10l-10 -10zM405.3 648.8l10 10l-10 10l-10 -10zM414.1 648.8l10 10l-10 10l-10 -10zM423 648.8l10 10l-10 10l-10 -10zM431.8 648.8l10 10l-10 10l-10 -10zM440.6 648.8l10 10l-10 10l-10 -10zM449.4 648.8l10 10l-10 10l-10 -10zM458.3 648.8l10 10l-10 10l-10 -10zM467.1 648.8l10 10l-10 10l-10 -10zM475.9 647.2l10 10l-10 10l-10 -10zM484.7 647.2l10 10l-10 10l-10 -10zM493.5 647.2l10 10l-10 10l-10 -10zM502.4 647.2l10 10l-10 10l-10 -10zM511.2 647.2l10 10l-10 10l-10 -10zM520 647.2l10 10l-10 10l-10 -10zM528.8 647.2l10 10l-10 10l-10 -10zM537.6 647.3l10 10l-10 10l-10 -10zM541.2 647.4l10 10l-10 10l-10 -10zM544.7 646.9l10 10l-10 10l-10 -10zM548.2 647.4l10 10l-10 10l-10 -10zM551.8 647.2l10 10l-10 10l-10 -10zM555.3 647.1l10 10l-10 10l-10 -10zM558.8 647.9l10 10l-10 10l-10 -10zM562.4 647.3l10 10l-10 10l-10 -10zM565.9 647.7l10 10l-10 10l-10 -10zM569.4 648l10 10l-10 10l-10 -10zM572.9 647.9l10 10l-10 10l-10 -10zM576.5 647.6l10 10l-10 10l-10 -10zM580 647.9l10 10l-10 10l-10 -10zM583.5 647.9l10 10l-10 10l-10 -10zM587.1 648.2l10 10l-10 10l-10 -10zM590.6 647.5l10 10l-10 10l-10 -10zM594.1 648l10 10l-10 10l-10 -10zM597.6 647.7l10 10l-10 10l-10 -10zM601.2 647.7l10 10l-10 10l-10 -10zM604.7 648.3l10 10l-10 10l-10 -10zM608.2 648l10 10l-10 10l-10 -10zM611.8 648.1l10 10l-10 10l-10 -10zM615.3 648.3l10 10l-10 10l-10 -10zM618.8 648.5l10 10l-10 10l-10 -10zM622.3 648l10 10l-10 10l-10 -10zM625.9 648.2l10 10l-10 10l-10 -10zM629.4 648.1l10 10l-10 10l-10 -10zM632.9 648.2l10 10l-10 10l-10 -10zM636.5 648.4l10 10l-10 10l-10 -10zM640 648.1l10 10l-10 10l-10 -10zM643.5 648.2l10 10l-10 10l-10 -10zM647 648.2l10 10l-10 10l-10 -10zM650.6 648.7l10 10l-10 10l-10 -10zM654.1 648.5l10 10l-10 10l-10 -10zM657.6 648.7l10 10l-10 10l-10 -10zM661.2 648.7l10 10l-10 10l-10 -10zM664.7 648.1l10 10l-10 10l-10 -10zM668.2 648.4l10 10l-10 10l-10 -10zM671.7 648.8l10 10l-10 10l-10 -10zM675.3 648.7l10 10l-10 10l-10 -10zM678.8 648l10 10l-10 10l-10 -10zM682.3 648l10 10l-10 10l-10 -10zM685.9 648.4l10 10l-10 10l-10 -10zM689.4 648l10 10l-10 10l-10 -10zM692.9 648.2l10 10l-10 10l-10 -10zM696.4 648.1l10 10l-10 10l-10 -10zM700 648.7l10 10l-10 10l-10 -10zM703.5 648.9l10 10l-10 10l-10 -10zM707 649l10 10l-10 10l-10 -10zM710.6 648.3l10 10l-10 10l-10 -10zM714.1 648.9l10 10l-10 10l-10 -10zM717.6 648.8l10 10l-10 10l-10 -10zM721.1 648.4l10 10l-10 10l-10 -10zM724.7 649.1l10 10l-10 10l-10 -10zM728.2 649.2l10 10l-10 10l-10 -10zM731.7 648.5l10 10l-10 10l-10 -10zM735.3 649.3l10 10l-10 10l-10 -10zM738.8 648.7l10 10l-10 10l-10 -10zM742.3 648.9l10 10l-10 10l-10 -10zM745.8 649.4l10 10l-10 10l-10 -10zM749.4 649.2l10 10l-10 10l-10 -10zM752.9 648.6l10 10l-10 10l-10 -10zM756.4 648.9l10 10l-10 10l-10 -10zM760 649l10 10l-10 10l-10 -10zM763.5 648.9l10 10l-10 10l-10 -10zM767 648.7l10 10l-10 10l-10 -10zM770.6 648.9l10 10l-10 10l-10 -10zM774.1 649.3l10 10l-10 10l-10 -10zM777.6 648.6l10 10l-10 10l-10 -10zM781.1 649.2l10 10l-10 10l-10 -10zM784.7 649.1l10 10l-10 10l-10 -10zM788.2 648.7l10 10l-10 10l-10 -10zM791.7 649.1l10 10l-10 10l-10 -10zM795.3 649.4l10 10l-10 10l-10 -10zM798.8 649.3l10 10l-10 10l-10 -10zM802.3 648.9l10 10l-10 10l-10 -10zM805.8 649.8l10 10l-10 10l-10 -10zM809.4 649.6l10 10l-10 10l-10 -10zM812.9 649.8l10 10l-10 10l-10 -10zM816.4 648.9l10 10l-10 10l-10 -10zM820 649.1l10 10l-10 10l-10 -10zM823.5 648.9l10 10l-10 10l-10 -10zM827 649.6l10 10l-10 10l-10 -10zM830.5 649.1l10 10l-10 10l-10 -10zM834.1 648.9l10 10l-10 10l-10 -10zM837.6 649.2l10 10l-10 10l-10 -10zM841.1 649.7l10 10l-10 10l-10 -10zM844.7 649.6l10 10l-10 10l-10 -10zM848.2 649.1l10 10l-10 10l-10 -10zM851.7 649l10 10l-10 10l-10 -10zM855.2 649.7l10 10l-10 10l-10 -10zM858.8 649.4l10 10l-10 10l-10 -10zM862.3 649.5l10 10l-10 10l-10 -10zM865.8 648.9l10 10l-10 10l-10 -10zM869.4 648.9l10 10l-10 10l-10 -10zM872.9 649.5l10 10l-10 10l-10 -10zM876.4 649.3l10 10l-10 10l-10 -10zM879.9 648.9l10 10l-10 10l-10 -10zM883.5 649.8l10 10l-10 10l-10 -10zM887 649.5l10 10l-10 10l-10 -10zM890.5 649.7l10 10l-10 10l-10 -10zM894.1 648.9l10 10l-10 10l-10 -10zM897.6 649.7l10 10l-10 10l-10 -10zM901.1 648.9l10 10l-10 10l-10 -10zM904.6 649.7l10 10l-10 10l-10 -10zM908.2 649.3l10 10l-10 10l-10 -10zM911.7 649.2l10 10l-10 10l-10 -10zM915.2 649.4l10 10l-10 10l-10 -10zM918.8 649.8l10 10l-10 10l-10 -10zM922.3 649.1l10 10l-10 10l-10 -10zM925.8 649l10 10l-10 10l-10 -10zM929.3 649.4l10 10l-10 10l-10 -10zM932.9 649.1l10 10l-10 10l-10 -10zM936.4 649l10 10l-10 10l-10 -10zM939.9 649l10 10l-10 10l-10 -10zM943.5 648.9l10 10l-10 10l-10 -10zM947 649.1l10 10l-10 10l-10 -10zM950.5 649.2l10 10l-10 10l-10 -10zM954 649.2l10 10l-10 10l-10 -10zM957.6 649.6l10 10l-10 10l-10 -10zM961.1 649.2l10 10l-10 10l-10 -10zM964.6 649.4l10 10l-10 10l-10 -10zM968.2 649.1l10 10l-10 10l-10 -10zM971.7 649.2l10 10l-10 10l-10 -10zM975.2 648.9l10 10l-10 10l-10 -10zM978.7 649.2l10 10l-10 10l-10 -10z"/>
</g>
<g font-family="Liberation Sans, sans-serif" font-size="28.6" fill="#000">
<text transform="translate(96.5 697.8) scale(1 1.035)" text-anchor="middle">0</text>
<text transform="translate(82.3 668.9) scale(1 1.035)" text-anchor="end">0</text>
<text transform="translate(273 697.8) scale(1 1.035)" text-anchor="middle">2</text>
<text transform="translate(82.3 539.5) scale(1 1.035)" text-anchor="end">2</text>
<text transform="translate(449.4 697.8) scale(1 1.035)" text-anchor="middle">4</text>
<text transform="translate(82.3 410.1) scale(1 1.035)" text-anchor="end">4</text>
<text transform="translate(625.9 697.8) scale(1 1.035)" text-anchor="middle">6</text>
<text transform="translate(82.3 280.7) scale(1 1.035)" text-anchor="end">6</text>
<text transform="translate(802.3 697.8) scale(1 1.035)" text-anchor="middle">8</text>
<text transform="translate(82.3 151.3) scale(1 1.035)" text-anchor="end">8</text>
<text transform="translate(980.2 697.8) scale(1 1.035)" text-anchor="middle">10</text>
<text transform="translate(82.3 21.9) scale(1 1.035)" text-anchor="end">10</text>
</g>
<text x="482.5" y="756.3" font-family="Liberation Serif, serif" font-size="37" fill="#000">μ</text>
<text transform="translate(502 767.4) scale(1 1.035)" font-family="Liberation Sans, sans-serif" font-size="21.5" fill="#000">0</text>
<text transform="translate(512.7 756.3) scale(1 1.035)" font-family="Liberation Sans, sans-serif" font-size="35.5" fill="#000">H (T)</text>
<g transform="translate(27.3 0) rotate(-90)" fill="#000">
<text transform="translate(-444.2 0) scale(1 1.035)" font-family="Liberation Sans, sans-serif" font-size="35.5">R</text>
<text transform="translate(-421 11.4) scale(1 1.035)" font-family="Liberation Sans, sans-serif" font-size="20.4">non-local</text>
<text transform="translate(-327.3 0) scale(1 1.035)" font-family="Liberation Sans, sans-serif" font-size="35.5">(</text>
<text x="-315.2" y="0" font-family="Liberation Serif, serif" font-size="34">Ω</text>
<text transform="translate(-289 0) scale(1 1.035)" font-family="Liberation Sans, sans-serif" font-size="35.5">)</text>
</g>
<text transform="translate(141.5 75.2) scale(1 1.035)" font-family="Liberation Sans, sans-serif" font-size="31.4" textLength="116.5" lengthAdjust="spacingAndGlyphs" fill="#000">T= 0.5 K</text>
<rect x="588.1" y="61.4" width="14.3" height="14.3" fill="#000"/>
<circle cx="595.3" cy="100.4" r="8.2" fill="#f00"/>
<path fill="#0f0" d="M595.3 121.4l10 16.9h-20z"/>
<path fill="#00f" d="M595.3 175.3l10 -16.9h-20z"/>
<path fill="#0ff" d="M595.3 186l10.2 10l-10.2 10l-10.2 -10z"/>
<text transform="translate(627.3 76.4) scale(1 1.035)" font-family="Liberation Sans, sans-serif" font-size="23.6" fill="#000">0.25</text>
<text x="680.2" y="76.4" font-family="Liberation Serif, serif" font-size="25" fill="#000">μ</text>
<text transform="translate(693.6 76.4) scale(1 1.035)" font-family="Liberation Sans, sans-serif" font-size="23.6" fill="#000">A</text>
<text transform="translate(627.3 108) scale(1 1.035)" font-family="Liberation Sans, sans-serif" font-size="23.6" fill="#000">0.35</text>
<text x="680.2" y="108" font-family="Liberation Serif, serif" font-size="25" fill="#000">μ</text>
<text transform="translate(693.6 108) scale(1 1.035)" font-family="Liberation Sans, sans-serif" font-size="23.6" fill="#000">A</text>
<text transform="translate(627.3 139.6) scale(1 1.035)" font-family="Liberation Sans, sans-serif" font-size="23.6" fill="#000">0.50</text>
<text x="680.2" y="139.6" font-family="Liberation Serif, serif" font-size="25" fill="#000">μ</text>
<text transform="translate(693.6 139.6) scale(1 1.035)" font-family="Liberation Sans, sans-serif" font-size="23.6" fill="#000">A</text>
<text transform="translate(627.3 171.2) scale(1 1.035)" font-family="Liberation Sans, sans-serif" font-size="23.6" fill="#000">1.00</text>
<text x="680.2" y="171.2" font-family="Liberation Serif, serif" font-size="25" fill="#000">μ</text>
<text transform="translate(693.6 171.2) scale(1 1.035)" font-family="Liberation Sans, sans-serif" font-size="23.6" fill="#000">A</text>
<text transform="translate(627.3 202.8) scale(1 1.035)" font-family="Liberation Sans, sans-serif" font-size="23.6" fill="#000">2.00</text>
<text x="680.2" y="202.8" font-family="Liberation Serif, serif" font-size="25" fill="#000">μ</text>
<text transform="translate(693.6 202.8) scale(1 1.035)" font-family="Liberation Sans, sans-serif" font-size="23.6" fill="#000">A</text>
<rect x="217.7" y="238.2" width="406.5" height="298.2" fill="#fff" stroke="#1a1a1a" stroke-width="1.5"/>
<path d="M262.8 536.4v-4.4M262.8 238.2v4.4M307.9 536.4v-7.5M307.9 238.2v7.5M353 536.4v-4.4M353 238.2v4.4M398.1 536.4v-7.5M398.1 238.2v7.5M443.2 536.4v-4.4M443.2 238.2v4.4M488.3 536.4v-7.5M488.3 238.2v7.5M533.4 536.4v-4.4M533.4 238.2v4.4M578.5 536.4v-7.5M578.5 238.2v7.5M217.7 486.7h4.4M624.2 486.7h-4.4M217.7 437h7.8M624.2 437h-7.8M217.7 387.3h4.4M624.2 387.3h-4.4M217.7 337.6h7.8M624.2 337.6h-7.8M217.7 287.9h4.4M624.2 287.9h-4.4" stroke="#1a1a1a" stroke-width="1.4" fill="none"/>
<clipPath id="ci"><rect x="217.7" y="238.2" width="406.5" height="298.2"/></clipPath>
<g clip-path="url(#ci)">
<path d="M226.3 514.7L250.5 356Q258 308 268.5 283 M280.3 283 C290 304 304 328 326.2 341.8 C352 357 378 369 398 380.5 C440 412 520 482 579.2 535.6" fill="none" stroke="#000" stroke-width="3.5" stroke-dasharray="0.1 6.7" stroke-linecap="round"/>
<circle cx="226.3" cy="514.7" r="9.5" fill="#000"/>
<circle cx="235.6" cy="452.5" r="9.5" fill="#000"/>
<circle cx="262.4" cy="276.9" r="9.5" fill="#000"/>
<circle cx="280.3" cy="278.7" r="9.5" fill="#000"/>
<circle cx="307.8" cy="342.2" r="9.5" fill="#000"/>
<circle cx="398" cy="369.1" r="9.5" fill="#000"/>
<circle cx="579.2" cy="535.6" r="9.5" fill="#000"/>
<path d="M226.3 514.7L262.4 276.9" stroke="#f00" stroke-width="4.1" stroke-linecap="round" fill="none"/>
</g>
<g font-family="Liberation Sans, sans-serif" font-size="25.6" fill="#000">
<text transform="translate(217.4 563.4) scale(1 1.035)" text-anchor="middle">0.0</text>
<text transform="translate(307.6 563.4) scale(1 1.035)" text-anchor="middle">0.5</text>
<text transform="translate(397.8 563.4) scale(1 1.035)" text-anchor="middle">1.0</text>
<text transform="translate(488 563.4) scale(1 1.035)" text-anchor="middle">1.5</text>
<text transform="translate(578.2 563.4) scale(1 1.035)" text-anchor="middle">2.0</text>
<text transform="translate(210 543.4) scale(1 1.035)" text-anchor="end">0.0</text>
<text transform="translate(210 444) scale(1 1.035)" text-anchor="end">0.1</text>
<text transform="translate(210 344.6) scale(1 1.035)" text-anchor="end">0.2</text>
<text transform="translate(210 245.2) scale(1 1.035)" text-anchor="end">0.3</text>
</g>
<text transform="translate(501 278.8) scale(1 1.035)" font-family="Liberation Sans, sans-serif" font-size="26" fill="#000">T = 0.5 K</text>
<text transform="translate(387.6 607.7) scale(1 1.035)" font-family="Liberation Sans, sans-serif" font-size="26" fill="#000">I (</text>
<text x="412.3" y="607.7" font-family="Liberation Serif, serif" font-size="27.5" fill="#000">μ</text>
<text transform="translate(426.2 607.7) scale(1 1.035)" font-family="Liberation Sans, sans-serif" font-size="26" fill="#000">A)</text>
<g transform="translate(158.3 0) rotate(-90)" fill="#000">
<text transform="translate(-534.3 0) scale(1 1.035)" font-family="Liberation Sans, sans-serif" font-size="26.4">V</text>
<text transform="translate(-516.3 10) scale(1 1.035)" font-family="Liberation Sans, sans-serif" font-size="15.6">non local, max</text>
<text transform="translate(-408.2 0) scale(1 1.035)" font-family="Liberation Sans, sans-serif" font-size="26.4">/</text>
<text x="-399.5" y="0" font-family="Liberation Serif, serif" font-size="27.5">μ</text>
<text transform="translate(-385.5 8.4) scale(1 1.035)" font-family="Liberation Sans, sans-serif" font-size="16">0</text>
<text transform="translate(-376 0) scale(1 1.035)" font-family="Liberation Sans, sans-serif" font-size="26.4">H (</text>
<text x="-342" y="0" font-family="Liberation Serif, serif" font-size="27.5">μ</text>
<text transform="translate(-328 0) scale(1 1.035)" font-family="Liberation Sans, sans-serif" font-size="26.4">V/T)</text>
</g>
</svg>
</body></html>
